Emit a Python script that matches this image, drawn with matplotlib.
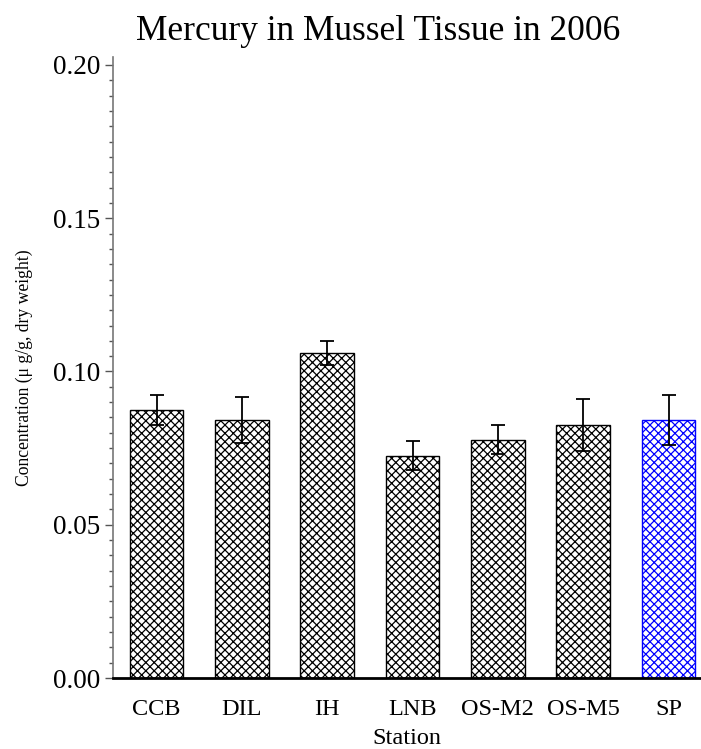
import matplotlib
matplotlib.use("Agg")
import matplotlib.pyplot as plt
from matplotlib.ticker import MultipleLocator, FormatStrFormatter

stations = ["CCB", "DIL", "IH", "LNB", "OS-M2", "OS-M5", "SP"]
values = [0.0875, 0.0842, 0.106, 0.0725, 0.0777, 0.0825, 0.0841]
errors = [0.0048, 0.0075, 0.0040, 0.0048, 0.0047, 0.0085, 0.0081]
colors = ["black", "black", "black", "black", "black", "black", "blue"]

plt.rcParams['font.family'] = ['Liberation Serif', 'DejaVu Serif']
plt.rcParams['hatch.linewidth'] = 0.9

fig = plt.figure(figsize=(7.01, 7.49), dpi=100)
ax = fig.add_axes([113/701, 1 - 678/749, 1 - 113/701, (678 - 57)/749])

x = list(range(len(stations)))
for i in x:
    ax.bar(i, values[i], width=0.63, facecolor='white', edgecolor=colors[i],
           hatch='xxxx', linewidth=1.0, zorder=2)
ax.errorbar(x, values, yerr=errors, fmt='none', ecolor='black', elinewidth=1.3,
            capsize=4.8, capthick=1.3, zorder=3)

ax.set_xlim(-0.51, 6.38)
ax.set_ylim(0, 0.2026)
ax.yaxis.set_major_locator(MultipleLocator(0.05))
ax.yaxis.set_minor_locator(MultipleLocator(0.005))
ax.yaxis.set_major_formatter(FormatStrFormatter('%.2f'))
ax.set_xticks(x)
ax.set_xticklabels(stations, fontsize=17.5)
ax.tick_params(axis='x', length=0, pad=15)
ax.tick_params(axis='y', which='major', length=6, width=1, labelsize=19.5, pad=3, color='#555555')
ax.tick_params(axis='y', which='minor', length=3, width=1, color='#555555')

for s in ['top', 'right']:
    ax.spines[s].set_visible(False)
ax.spines['left'].set_color('#777777')
ax.spines['left'].set_linewidth(1.2)
ax.spines['bottom'].set_color('black')
ax.spines['bottom'].set_linewidth(2)
ax.spines['bottom'].set_zorder(4)

ax.set_xlabel("Station", fontsize=17.5, labelpad=6)
ax.set_ylabel("Concentration (μ g/g, dry weight)", fontsize=12.7, va='center')
ax.yaxis.set_label_coords(-0.151, 0.5)

fig.text(378/701, 1 - 32/749, "Mercury in Mussel Tissue in 2006", fontsize=25.5,
         ha='center', va='center')

fig.savefig("out.png", dpi=100)
